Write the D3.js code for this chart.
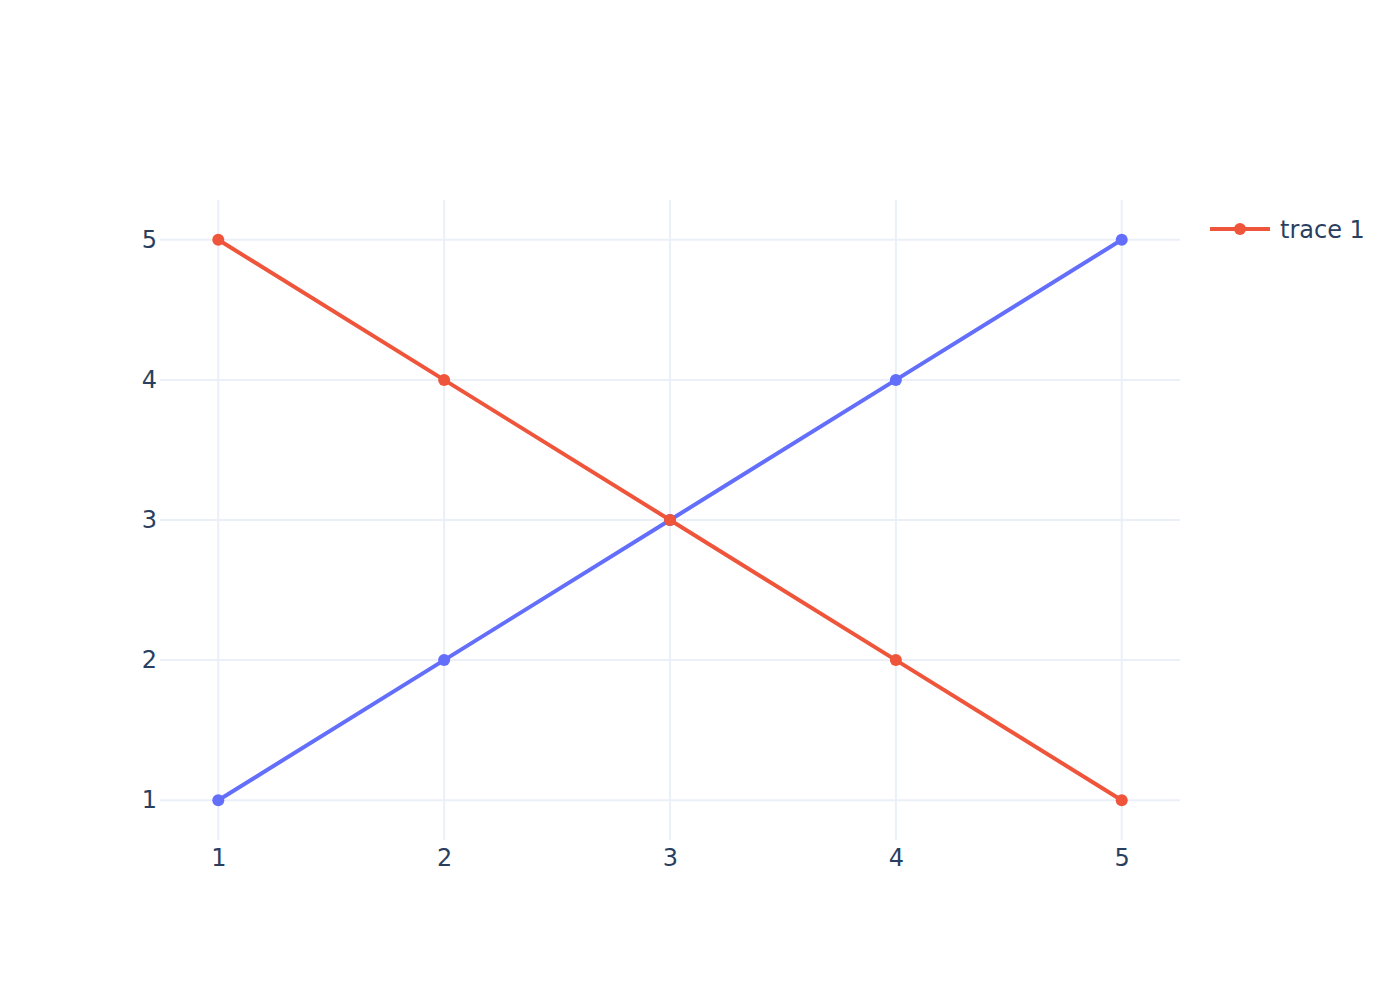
<!DOCTYPE html>
<html>
<head>
<meta charset="utf-8">
<script src="https://d3js.org/d3.v7.min.js"></script>
<style>
    body { margin: 0; background: #fff; }
    text { font-family: "DejaVu Sans", verdana, arial, sans-serif; fill: #2a3f5f; }
</style>
</head>
<body>
<script>
// data
var xValues = [1, 2, 3, 4, 5];
var trace0 = [1, 2, 3, 4, 5];
var trace1 = [5, 4, 3, 2, 1];
var xTicks = [1, 2, 3, 4, 5];
var yTicks = [1, 2, 3, 4, 5];
var legendName = 'trace 1';

var width = 1400;
var height = 1000;
var margin = {left: 160, top: 200, right: 220, bottom: 160};
var plotW = width - margin.left - margin.right;
var plotH = height - margin.top - margin.bottom;
var fontFamily = '"DejaVu Sans", verdana, arial, sans-serif';

var svg = d3.select('body')
    .append('svg')
    .attr('width', width)
    .attr('height', height);

var xScale = d3.scaleLinear().domain([0.742, 5.258]).range([margin.left, margin.left + plotW]);
var yScale = d3.scaleLinear().domain([0.716, 5.284]).range([margin.top + plotH, margin.top]);

//grid
svg.append('g')
    .selectAll('line')
    .data(xTicks)
    .enter()
    .append('line')
    .attr('x1', function(d){ return xScale(d); })
    .attr('x2', function(d){ return xScale(d); })
    .attr('y1', margin.top)
    .attr('y2', margin.top + plotH)
    .attr('stroke', '#ebf0f8')
    .attr('stroke-width', 2);

svg.append('g')
    .selectAll('line')
    .data(yTicks)
    .enter()
    .append('line')
    .attr('x1', margin.left)
    .attr('x2', margin.left + plotW)
    .attr('y1', function(d){ return yScale(d); })
    .attr('y2', function(d){ return yScale(d); })
    .attr('stroke', '#ebf0f8')
    .attr('stroke-width', 2);

//axes (labels only)
var xAxis = d3.axisBottom(xScale).tickValues(xTicks).tickSize(0).tickPadding(9).tickFormat(d3.format('d'));
var yAxis = d3.axisLeft(yScale).tickValues(yTicks).tickSize(0).tickPadding(3).tickFormat(d3.format('d'));

var gx = svg.append('g')
    .attr('transform', 'translate(0,' + (margin.top + plotH) + ')')
    .call(xAxis);
var gy = svg.append('g')
    .attr('transform', 'translate(' + margin.left + ',0)')
    .call(yAxis);
[gx, gy].forEach(function(g){
    g.select('.domain').remove();
    g.selectAll('text').attr('font-size', 24).attr('fill', '#2a3f5f')
        .style('font-family', fontFamily);
});

//lines
var line = d3.line()
    .x(function(d){ return xScale(d.x); })
    .y(function(d){ return yScale(d.y); });

var series = [
    {name: 'trace 0', color: '#636efa', values: trace0},
    {name: legendName, color: '#EF553B', values: trace1}
];

series.forEach(function(s){
    var pts = xValues.map(function(x, i){ return {x: x, y: s.values[i]}; });
    var g = svg.append('g');
    g.append('path')
        .datum(pts)
        .attr('d', line)
        .attr('fill', 'none')
        .attr('stroke', s.color)
        .attr('stroke-width', 4)
        .attr('stroke-linejoin', 'round');
    g.selectAll('circle')
        .data(pts)
        .enter()
        .append('circle')
        .attr('cx', function(d){ return xScale(d.x); })
        .attr('cy', function(d){ return yScale(d.y); })
        .attr('r', 6)
        .attr('fill', s.color);
});

//legend
var legend = svg.append('g').attr('transform', 'translate(1210,229)');
legend.append('line')
    .attr('x1', 0).attr('x2', 60)
    .attr('y1', 0).attr('y2', 0)
    .attr('stroke', '#EF553B')
    .attr('stroke-width', 4);
legend.append('circle')
    .attr('cx', 30).attr('cy', 0).attr('r', 6)
    .attr('fill', '#EF553B');
legend.append('text')
    .attr('x', 70)
    .attr('y', 1)
    .attr('dy', '0.35em')
    .attr('font-size', 24)
    .style('font-family', fontFamily)
    .text(legendName);
</script>
</body>
</html>
